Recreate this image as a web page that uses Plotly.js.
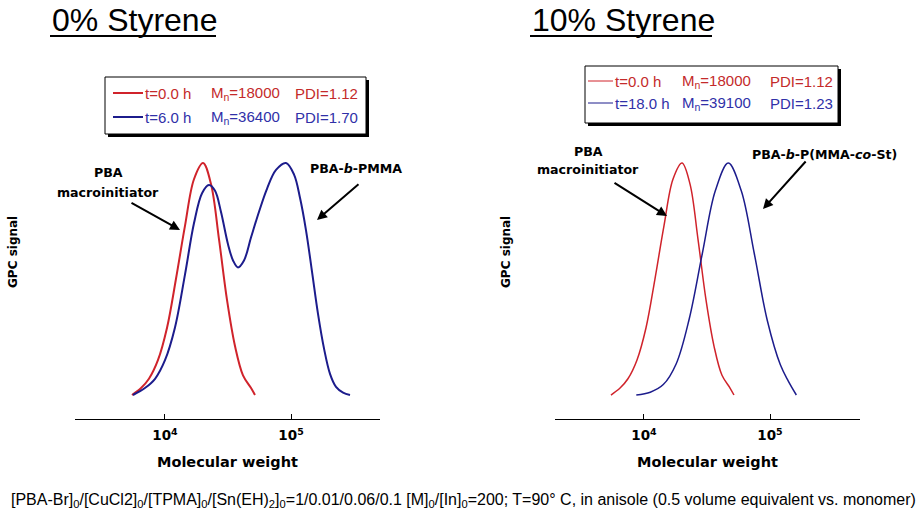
<!DOCTYPE html>
<html><head><meta charset="utf-8">
<script src="https://cdn.plot.ly/plotly-3.0.1.min.js"></script>
<style>html,body{margin:0;padding:0;background:#fff}#c{width:920px;height:512px}</style>
</head><body><div id="c"></div>
<script>
// t = 0 h, PBA macroinitiator (same sample in both panels)
const mwT0 = [5470, 6460, 7460, 8790, 10380, 12220, 14420, 16980, 20040, 23170, 26850, 31050, 35970, 41590, 48190, 51760];
const sigT0 = [0.00, 0.03, 0.07, 0.15, 0.29, 0.50, 0.73, 0.93, 1.00, 0.91, 0.67, 0.41, 0.21, 0.085, 0.03, 0.00];
// 0% styrene, t = 6 h
const mwT6 = [5570, 6930, 8340, 10000, 11990, 14420, 16980, 19680, 22340, 24950, 27800, 31620, 34670, 37930, 42360, 48190, 55720, 64570, 76030, 91200, 105700, 117800, 131500, 146900, 163700, 182800, 204200, 227500, 258800, 293800];
const sigT6 = [0.00, 0.03, 0.07, 0.15, 0.29, 0.52, 0.74, 0.87, 0.905, 0.88, 0.79, 0.65, 0.58, 0.55, 0.58, 0.68, 0.79, 0.89, 0.97, 1.00, 0.95, 0.85, 0.71, 0.53, 0.35, 0.20, 0.09, 0.035, 0.01, 0.00];
// 10% styrene, t = 18 h
const mwT18 = [8690, 11220, 14230, 18030, 22900, 29040, 36810, 46670, 59160, 75010, 95280, 120800, 139700, 161800];
const sigT18 = [0.00, 0.012, 0.045, 0.135, 0.33, 0.61, 0.88, 1.00, 0.88, 0.61, 0.32, 0.13, 0.06, 0.00];

const panelTitles = ['0% Styrene', '10% Styrene'];
const tickVals = [1e4, 1e5];
const tickText = ['<b>10<sup>4</sup></b>', '<b>10<sup>5</sup></b>'];
const legendLeft = [['t=0.0 h', 'M<sub>n</sub>=18000', 'PDI=1.12'], ['t=6.0 h', 'M<sub>n</sub>=36400', 'PDI=1.70']];
const legendRight = [['t=0.0 h', 'M<sub>n</sub>=18000', 'PDI=1.12'], ['t=18.0 h', 'M<sub>n</sub>=39100', 'PDI=1.23']];
const footnote = '[PBA-Br]<sub>0</sub>/[CuCl2]<sub>0</sub>/[TPMA]<sub>0</sub>/[Sn(EH)<sub>2</sub>]<sub>0</sub>=1/0.01/0.06/0.1 [M]<sub>0</sub>/[In]<sub>0</sub>=200; T=90° C, in anisole (0.5 volume equivalent vs. monomer)';

const RED = '#d0232b', BLUE = '#1c1c8c', REDT = '#c42a2a', BLUET = '#3030a8';
const W = 920, H = 512;
const X = p => p / W, Y = p => 1 - p / H;
const F = 'Liberation Sans, Arial, sans-serif';
const FB = 'DejaVu Sans, Liberation Sans, sans-serif';

const traces = [
  {x: mwT0, y: sigT0, xaxis: 'x', yaxis: 'y', mode: 'lines', line: {color: RED, width: 2, shape: 'spline', smoothing: 1}},
  {x: mwT6, y: sigT6, xaxis: 'x', yaxis: 'y', mode: 'lines', line: {color: BLUE, width: 2, shape: 'spline', smoothing: 1}},
  {x: mwT0, y: sigT0, xaxis: 'x2', yaxis: 'y2', mode: 'lines', line: {color: RED, width: 1.5, shape: 'spline', smoothing: 1}},
  {x: mwT18, y: sigT18, xaxis: 'x2', yaxis: 'y2', mode: 'lines', line: {color: BLUE, width: 1.5, shape: 'spline', smoothing: 1}}
];

const xax = (d0, d1, r0, r1) => ({
  type: 'log', domain: [X(d0), X(d1)], range: [r0, r1], showline: true, linecolor: '#000', linewidth: 1,
  ticks: 'inside', ticklen: 5, tickcolor: '#000', tickvals: tickVals, ticktext: tickText, ticklabelstandoff: 4,
  tickfont: {family: FB, size: 13.5, color: '#000'}, showgrid: false, zeroline: false, fixedrange: true
});
const yax = {domain: [Y(419), Y(60)], range: [-0.1034, 1.444], visible: false, fixedrange: true};

const ann = [];
const shapes = [];
function txt(x, y, text, size, opts) {
  ann.push(Object.assign({xref: 'paper', yref: 'paper', x: X(x), y: Y(y), text: text, showarrow: false,
    font: {family: FB, size: size, color: '#000'}, xanchor: 'center', yanchor: 'middle'}, opts || {}));
}
function arrow(x0, y0, x1, y1) {
  ann.push({xref: 'paper', yref: 'paper', x: X(x1), y: Y(y1), axref: 'pixel', ayref: 'pixel',
    ax: x0 - x1, ay: y0 - y1, text: '', showarrow: true, arrowhead: 2, arrowsize: 1, arrowwidth: 2, arrowcolor: '#000'});
}
// panel titles
txt(50, 20, panelTitles[0], 32, {xanchor: 'left', font: {family: F, size: 32, color: '#000'}});
txt(530, 20, panelTitles[1], 32, {xanchor: 'left', font: {family: F, size: 32, color: '#000'}});
shapes.push({type: 'line', xref: 'paper', yref: 'paper', x0: X(50), x1: X(216), y0: Y(36), y1: Y(36), line: {color: '#000', width: 2}});
shapes.push({type: 'line', xref: 'paper', yref: 'paper', x0: X(530), x1: X(712), y0: Y(36), y1: Y(36), line: {color: '#000', width: 2}});
// axis titles
txt(227, 462, '<b>Molecular weight</b>', 14.5);
txt(707, 462, '<b>Molecular weight</b>', 14.5);
txt(13, 252, '<b>GPC signal</b>', 12, {textangle: -90});
txt(506, 252, '<b>GPC signal</b>', 12, {textangle: -90});
// legends
function legend(bx0, by0, bx1, by1, rows, lx0, lx1, tx, ys, lw) {
  shapes.push({type: 'rect', xref: 'paper', yref: 'paper', x0: X(bx0 + 3), x1: X(bx1 + 3), y0: Y(by0 + 3), y1: Y(by1 + 3), fillcolor: '#000', line: {width: 0}});
  shapes.push({type: 'rect', xref: 'paper', yref: 'paper', x0: X(bx0), x1: X(bx1), y0: Y(by0), y1: Y(by1), fillcolor: '#fff', line: {color: '#000', width: 1}});
  const cols = [RED, BLUE], tcols = [REDT, BLUET];
  rows.forEach((r, i) => {
    shapes.push({type: 'line', xref: 'paper', yref: 'paper', x0: X(lx0), x1: X(lx1), y0: Y(ys[i]), y1: Y(ys[i]), line: {color: cols[i], width: lw}});
    r.forEach((s, j) => txt(tx[j], ys[i], s, 15, {xanchor: 'left', font: {family: F, size: 15, color: tcols[i]}}));
  });
}
legend(105, 77, 366, 134, legendLeft, 113, 143, [143, 209, 293], [93, 117], 2);
legend(585, 66, 838, 123, legendRight, 588, 613, [613, 680, 768], [81, 103], 1);
// curve labels
txt(108, 172, '<b>PBA</b>', 12.6);
txt(108, 192, '<b>macroinitiator</b>', 12.6);
arrow(130, 202, 180, 230);
txt(308, 168, '<b>PBA-<i>b</i>-PMMA</b>', 12.6, {xanchor: 'left'});
arrow(360, 183, 317, 220);
txt(588, 151, '<b>PBA</b>', 12.6);
txt(588, 169, '<b>macroinitiator</b>', 12.6);
arrow(613, 182, 667, 216);
txt(750, 154, '<b>PBA-<i>b</i>-P(MMA-<i>co</i>-St)</b>', 12.6, {xanchor: 'left'});
arrow(807, 160, 763, 209);
// footnote
txt(463, 500, footnote, 16, {font: {family: F, size: 16, color: '#000'}});

const layout = {
  width: W, height: H, margin: {l: 0, r: 0, t: 0, b: 0}, paper_bgcolor: '#fff', plot_bgcolor: 'rgba(0,0,0,0)',
  showlegend: false,
  xaxis: xax(75, 380, 3.286, 5.706), yaxis: Object.assign({anchor: 'x'}, yax),
  xaxis2: Object.assign(xax(555, 860, 3.294, 5.714), {anchor: 'y2'}), yaxis2: Object.assign({anchor: 'x2'}, yax),
  annotations: ann, shapes: shapes
};
Plotly.newPlot('c', traces, layout, {staticPlot: true, displayModeBar: false});
</script></body></html>
